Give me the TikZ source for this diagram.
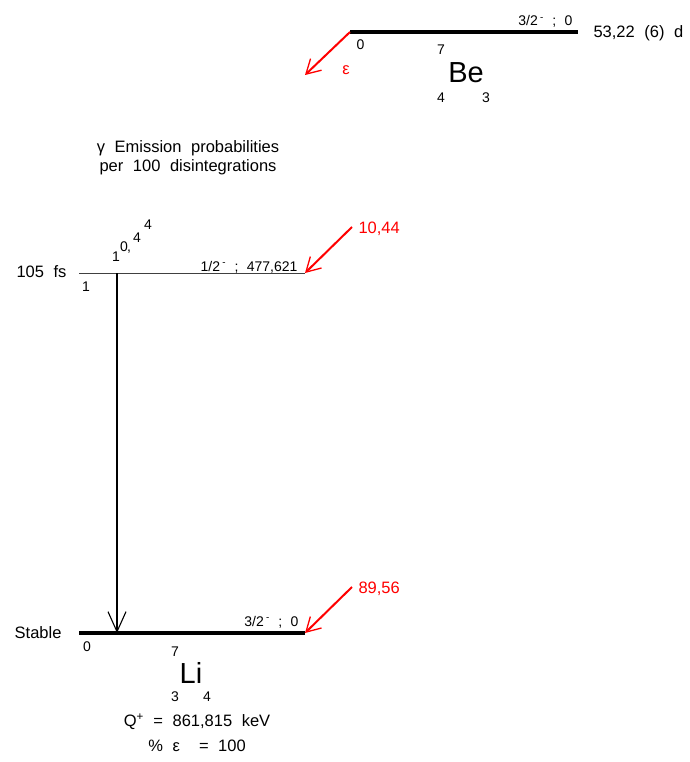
\documentclass[tikz,border=0pt]{standalone}
\usepackage{fontspec}
\setmainfont{Liberation Sans}
\usetikzlibrary{arrows.meta}

\newcommand{\bigtext}{\fontsize{16.5}{19}\selectfont\spaceskip=0.58em\relax}
\newcommand{\smalltext}{\fontsize{14}{16}\selectfont\spaceskip=0.6em\relax}
\newcommand{\parity}{\,\textsuperscript{-}}

\tikzset{
  levelthick/.style={line width=3.2pt},
  levelthin/.style={line width=1pt,black!75},
  feed/.style={red,line width=2pt,-{Straight Barb[length=14pt,width=16pt,line width=1.3pt]}},
  gammaline/.style={line width=1.6pt,-{Straight Barb[length=20pt,width=18pt,line width=1.1pt]}},
  big/.style={font=\bigtext},
  small/.style={font=\smalltext},
  nuc/.style={font=\fontsize{29}{32}\selectfont},
}

\begin{document}
\begin{tikzpicture}[x=1pt,y=-1pt]
 \useasboundingbox (0,0) rectangle (689,762);
 % parent level 7Be
 \coordinate (beL) at (350,32);
 \coordinate (beR) at (578,32);
 \coordinate (eps) at (305,75);
 \draw[levelthick] (beL) -- (beR);
 \draw[feed] (beL) -- (eps);
 \node[small,anchor=base east] (beSpin) at (576,26) {3/2\parity{} ; 0};
 \node[big,anchor=base west] (beHalf) at (590,38) {53,22 (6) d};
 \node[small,anchor=base west] (beZero) at (353,50) {0};
 \node[red,big] (epsLab) at (346,70) {ε};
 \node[small] (beA) at (441,50) {7};
 \node[nuc,anchor=base] (beSym) at (466,83) {Be};
 \node[small] (beZ) at (441,98) {4};
 \node[small] (beN) at (486,98) {3};

 \node[big,align=center] (title) at (188,158)
   {γ Emission probabilities\\per 100 disintegrations};

 % levels of 7Li
 \coordinate (lvOneL) at (79,273);
 \coordinate (lvOneR) at (305,273);
 \coordinate (lvZeroL) at (79,633);
 \coordinate (lvZeroR) at (305,633);
 \coordinate (gTop) at (117,273);
 \coordinate (gBot) at (117,633);
 \coordinate (feedOne) at (352,227);
 \coordinate (feedZero) at (352,587);
 \draw[levelthin] (lvOneL) -- (lvOneR);
 \draw[levelthick] (lvZeroL) -- (lvZeroR);
 \draw[gammaline] (gTop) -- (gBot);
 \draw[feed] (feedOne) -- (lvOneR);
 \draw[feed] (feedZero) -- (lvZeroR);

 \node[big,anchor=east] (lvOneLife) at (70,272) {105 fs};
 \node[small] (lvOneIdx) at (86,287) {1};
 \node[small,anchor=base east] (lvOneSpin) at (301,271) {1/2\parity{} ; 477,621};
 \node[red,big,anchor=west] (lvOneFeed) at (355,229) {10,44};
 % staggered gamma intensity
 \foreach \c/\x/\y in {1/116/257, 0/124/247, {,}/129/252, 4/137/238, 4/148/225}
   \node[small] at (\x,\y) {\c};

 \node[big,anchor=east] (lvZeroLife) at (65,633) {Stable};
 \node[small] (lvZeroIdx) at (87,647) {0};
 \node[small,anchor=base east] (lvZeroSpin) at (302,626) {3/2\parity{} ; 0};
 \node[red,big,anchor=west] (lvZeroFeed) at (355,589) {89,56};
 \node[small] (liA) at (175,652) {7};
 \node[nuc,anchor=base] (liSym) at (191,683) {Li};
 \node[small] (liZ) at (175,697) {3};
 \node[small] (liN) at (207,697) {4};
 \node[big] (qval) at (197,722) {Q\textsuperscript{+} = 861,815 keV};
 \node[big] (pct) at (197,746) {\% ε \ = 100};
\end{tikzpicture}
\end{document}
